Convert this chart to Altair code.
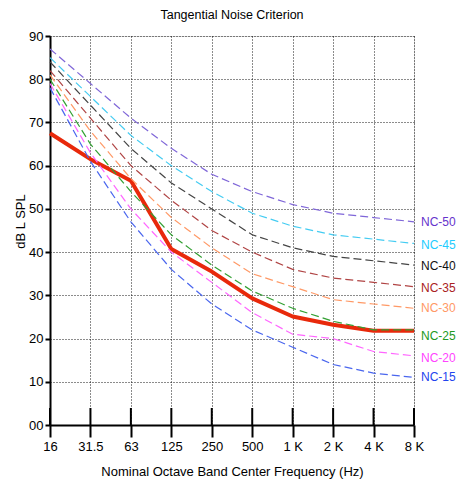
import altair as alt
import pandas as pd

freqs = ["16", "31.5", "63", "125", "250", "500", "1 K", "2 K", "4 K", "8 K"]

nc_names = ["NC-15", "NC-20", "NC-25", "NC-30", "NC-35", "NC-40", "NC-45", "NC-50"]
nc15 = [78, 61, 47, 36, 28, 22, 18, 14, 12, 11]
nc20 = [79, 63, 50, 40, 33, 26, 21, 20, 17, 16]
nc25 = [80, 65, 54, 44, 37, 31, 27, 24, 22, 22]
nc30 = [81, 68, 57, 48, 41, 35, 32, 29, 28, 27]
nc35 = [82, 71, 60, 52, 45, 40, 36, 34, 33, 32]
nc40 = [84, 74, 64, 56, 50, 44, 41, 39, 38, 37]
nc45 = [85, 76, 67, 60, 54, 49, 46, 44, 43, 42]
nc50 = [87, 79, 71, 64, 58, 54, 51, 49, 48, 47]
nc_values = [nc15, nc20, nc25, nc30, nc35, nc40, nc45, nc50]

measured = [67.5, 61.5, 56.5, 40.7, 35.5, 29.3, 25.1, 23.2, 21.8, 21.8]

label_levels = [11, 15.5, 20.5, 27, 31.6, 36.7, 41.6, 47]

line_colors = ["#4a66ee", "#ff66ff", "#33a033", "#ff9966", "#b04444", "#444444", "#44ccf2", "#7f66d8"]
label_colors = ["#2244ee", "#ff44ff", "#229922", "#ff9966", "#aa2222", "#111111", "#22ccff", "#6633cc"]

W, H = 364, 389
FONT = "Liberation Sans"

rows = []
for name, vals in zip(nc_names, nc_values):
    for f, v in zip(freqs, vals):
        rows.append({"curve": name, "freq": f, "db": v})
nc_df = pd.DataFrame(rows)
meas_df = pd.DataFrame({"freq": freqs, "db": measured})
lab_df = pd.DataFrame({"curve": nc_names, "freq": ["8 K"] * len(nc_names), "db": label_levels})
tick_df = pd.DataFrame({"freq": freqs})

xenc = alt.X(
    "freq:O", sort=freqs,
    scale=alt.Scale(type="point", padding=0),
    axis=alt.Axis(
        title="Nominal Octave Band Center Frequency (Hz)",
        labelAngle=0, labelFont=FONT, labelFontSize=13, labelColor="#000",
        labelPadding=3,
        tickSize=12, tickWidth=2, tickColor="#000",
        domainWidth=2, domainColor="#000",
        grid=True, gridColor="#000", gridDash=[1, 2], gridWidth=1, gridOpacity=0.9,
        titleFont=FONT, titleFontSize=13, titleFontWeight="normal", titleColor="#000",
        titleY=46, titleBaseline="middle",
    ),
)
yscale = alt.Scale(domain=[0, 90], nice=False, zero=True)
yenc = alt.Y(
    "db:Q", scale=yscale,
    axis=alt.Axis(
        title="dB L SPL", values=list(range(0, 91, 10)),
        labelExpr="datum.value == 0 ? '00' : datum.label",
        labelFont=FONT, labelFontSize=13, labelColor="#000", labelPadding=2,
        tickSize=5, tickWidth=2, tickColor="#000",
        domainWidth=2, domainColor="#000",
        grid=True, gridColor="#000", gridDash=[1, 2], gridWidth=1, gridOpacity=0.9,
        titleFont=FONT, titleFontSize=13, titleFontWeight="normal", titleColor="#000",
        titleX=-30, titleY=185, titleBaseline="middle",
    ),
)

color_scale = alt.Scale(domain=nc_names, range=line_colors)
label_scale = alt.Scale(domain=nc_names, range=label_colors)

meas = alt.Chart(meas_df).mark_line(color="#e8290b", strokeWidth=4, strokeJoin="round").encode(
    x=xenc, y=yenc
)

nc = alt.Chart(nc_df).mark_line(strokeWidth=1.2, strokeDash=[8, 4]).encode(
    x=alt.X("freq:O", sort=freqs),
    y=alt.Y("db:Q"),
    color=alt.Color("curve:N", scale=color_scale, legend=None),
    detail="curve:N",
)

ticks_up = alt.Chart(tick_df).mark_rule(color="#000", strokeWidth=2).encode(
    x=alt.X("freq:O", sort=freqs),
    y=alt.value(H - 17),
    y2=alt.value(H),
)

labels = alt.Chart(lab_df).mark_text(
    align="left", baseline="middle", dx=7, font=FONT, fontSize=12
).encode(
    x=alt.X("freq:O", sort=freqs),
    y=alt.Y("db:Q"),
    color=alt.Color("curve:N", scale=label_scale, legend=None),
    text="curve:N",
)

chart = (
    alt.layer(meas, nc, ticks_up, labels)
    .resolve_scale(color="independent")
    .properties(
        width=W, height=H,
        title=alt.TitleParams("Tangential Noise Criterion", font=FONT, fontSize=12.5,
                              fontWeight="normal", color="#000", anchor="middle", offset=9),
        autosize=alt.AutoSizeParams(type="none"),
        padding={"left": 42, "top": 28, "right": 42, "bottom": 54},
    )
    .configure_view(stroke=None)
    .configure(background="white")
)

chart.save("out.html", embed_options={"renderer": "svg", "actions": False})
